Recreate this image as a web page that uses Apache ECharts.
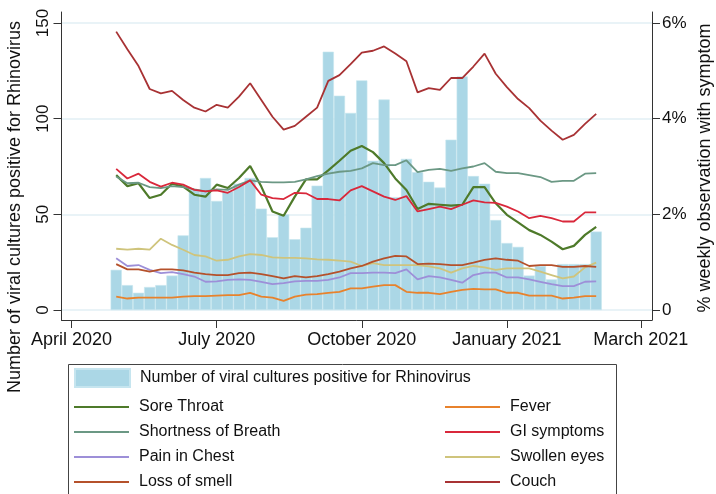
<!DOCTYPE html>
<html>
<head>
<meta charset="utf-8">
<script src="https://cdn.jsdelivr.net/npm/echarts@6/dist/echarts.min.js"></script>
<style>
html,body{margin:0;padding:0;background:#fff;}
#chart{width:716px;height:494px;}
</style>
</head>
<body>
<div id="chart"></div>
<script>
// ---- data ----
const weeks = [0,1,2,3,4,5,6,7,8,9,10,11,12,13,14,15,16,17,18,19,20,21,22,23,24,25,26,27,28,29,30,31,32,33,34,35,36,37,38,39,40,41,42,43];
const tickWeeks = [-4, 9, 22, 35, 47];
const tickLabels = ['April 2020','July 2020','October 2020','January 2021','March 2021'];
const leftTicks = [0, 50, 100, 150];
const rightTicks = [0, 2, 4, 6];

const rhinovirus = [21,13,9,12,13,18,39,63,69,57,62,66,69,53,38,50,37,43,65,135,112,103,120,78,110,59,79,72,67,64,89,122,70,66,47,35,33,18,23,16,24,24,24,41];

const soreThroat = [2.82,2.59,2.65,2.34,2.41,2.64,2.58,2.41,2.37,2.62,2.55,2.76,3.01,2.58,2.06,1.97,2.37,2.73,2.73,2.92,3.12,3.33,3.43,3.30,3.07,2.75,2.51,2.11,2.22,2.20,2.18,2.20,2.57,2.57,2.23,1.99,1.83,1.67,1.57,1.43,1.27,1.34,1.57,1.74];
const shortness = [2.79,2.65,2.66,2.57,2.55,2.59,2.57,2.52,2.48,2.52,2.51,2.62,2.71,2.68,2.67,2.67,2.68,2.73,2.80,2.85,2.89,2.91,2.96,3.07,3.03,3.03,3.13,2.88,2.93,2.95,2.91,2.96,3.00,3.07,2.89,2.86,2.86,2.82,2.78,2.68,2.70,2.70,2.85,2.86];
const painChest = [1.08,0.92,0.94,0.84,0.77,0.79,0.75,0.70,0.59,0.60,0.63,0.64,0.63,0.59,0.54,0.56,0.60,0.61,0.61,0.63,0.68,0.77,0.77,0.78,0.78,0.77,0.85,0.64,0.71,0.68,0.63,0.57,0.73,0.78,0.78,0.68,0.68,0.64,0.59,0.54,0.50,0.50,0.59,0.60];
const lossSmell = [0.96,0.85,0.85,0.80,0.85,0.85,0.83,0.78,0.75,0.73,0.73,0.77,0.78,0.75,0.71,0.66,0.71,0.68,0.71,0.75,0.80,0.87,0.92,1.01,1.08,1.13,1.12,0.96,0.97,0.96,0.94,0.94,0.99,1.05,1.08,1.05,1.03,0.92,0.94,0.94,0.90,0.90,0.92,0.90];
const fever = [0.28,0.24,0.26,0.26,0.26,0.26,0.28,0.29,0.29,0.30,0.31,0.31,0.36,0.28,0.26,0.19,0.28,0.32,0.33,0.36,0.38,0.45,0.45,0.49,0.52,0.52,0.38,0.36,0.36,0.33,0.38,0.42,0.44,0.43,0.43,0.36,0.36,0.30,0.30,0.30,0.24,0.26,0.29,0.29];
const giSymptoms = [2.95,2.75,2.85,2.68,2.58,2.66,2.62,2.51,2.48,2.50,2.45,2.57,2.71,2.41,2.34,2.32,2.45,2.44,2.32,2.32,2.29,2.50,2.59,2.48,2.37,2.30,2.38,2.06,2.11,2.16,2.11,2.20,2.29,2.25,2.24,2.16,2.06,1.92,1.97,1.92,1.85,1.85,2.04,2.04];
const swollenEyes = [1.28,1.26,1.28,1.26,1.49,1.36,1.26,1.15,1.12,1.03,1.05,1.12,1.17,1.15,1.10,1.09,1.09,1.08,1.06,1.05,1.03,1.01,0.92,0.98,0.94,0.94,0.94,0.94,0.91,0.87,0.78,0.87,0.92,0.89,0.84,0.87,0.87,0.87,0.80,0.73,0.66,0.70,0.89,0.99];
const couch = [5.82,5.45,5.10,4.62,4.53,4.58,4.39,4.23,4.15,4.29,4.23,4.46,4.74,4.39,4.04,3.77,3.85,4.04,4.23,4.79,4.91,5.14,5.38,5.42,5.51,5.36,5.20,4.55,4.64,4.60,4.85,4.85,5.09,5.36,4.94,4.66,4.41,4.22,3.96,3.75,3.56,3.66,3.89,4.10];

// ---- chart ----
const FONT = "'Liberation Sans', Arial, sans-serif";
const TXT = '#111';
const pair = arr => weeks.map((w, i) => [w, arr[i]]);

const lineDefs = [
  {name: 'Sore Throat', data: soreThroat, color: '#4e7a2a', width: 2.2},
  {name: 'Fever', data: fever, color: '#e8822c', width: 1.8},
  {name: 'Shortness of Breath', data: shortness, color: '#6b9884', width: 1.8},
  {name: 'GI symptoms', data: giSymptoms, color: '#d9283b', width: 1.8},
  {name: 'Pain in Chest', data: painChest, color: '#9d8fd8', width: 1.8},
  {name: 'Swollen eyes', data: swollenEyes, color: '#cfc47c', width: 1.8},
  {name: 'Loss of smell', data: lossSmell, color: '#b5512b', width: 1.8},
  {name: 'Couch', data: couch, color: '#a83234', width: 1.8}
];

const series = [{
  name: 'Number of viral cultures positive for Rhinovirus',
  type: 'bar',
  xAxisIndex: 0, yAxisIndex: 0,
  data: pair(rhinovirus),
  barCategoryGap: '0%',
  itemStyle: {color: '#abd7e6', borderColor: '#c6e5ef', borderWidth: 0.6},
  z: 1
}].concat(lineDefs.map(d => ({
  name: d.name, type: 'line', xAxisIndex: 0, yAxisIndex: 1,
  data: pair(d.data), symbol: 'none', showSymbol: false,
  lineStyle: {color: d.color, width: d.width}, itemStyle: {color: d.color},
  z: 3
})));

const legendBase = {
  itemWidth: 55, itemHeight: 2, icon: 'rect', orient: 'vertical',
  itemGap: 5, height: 130, padding: 0,
  textStyle: {fontFamily: FONT, fontSize: 16, color: TXT, lineHeight: 20, padding: [0,0,0,5]},
  selectedMode: false
};

const option = {
  animation: false,
  backgroundColor: '#fff',
  grid: {left: 61.5, right: 64, top: 12, bottom: 174, containLabel: false},
  xAxis: [{
    type: 'value', min: -4.9, max: 48,
    axisLine: {show: true, onZero: false, lineStyle: {color: '#333', width: 1}},
    axisTick: {show: true, length: 8, lineStyle: {color: '#333'}, customValues: tickWeeks},
    axisLabel: {customValues: tickWeeks, margin: 11, fontFamily: FONT, fontSize: 18, color: TXT,
      formatter: v => tickLabels[tickWeeks.indexOf(Math.round(v))] || ''},
    splitLine: {show: false}
  }],
  yAxis: [{
    type: 'value', min: -5.23, max: 155.75, position: 'left',
    axisLine: {show: true, onZero: false, lineStyle: {color: '#333', width: 1}},
    axisTick: {show: true, length: 8, lineStyle: {color: '#333'}, customValues: leftTicks},
    axisLabel: {customValues: leftTicks, rotate: 90, margin: 10, fontFamily: FONT, fontSize: 17, color: TXT},
    splitLine: {show: true, lineStyle: {color: '#e2eff5', width: 1.5}}
  }, {
    type: 'value', min: -0.2092, max: 6.23, position: 'right',
    axisLine: {show: true, onZero: false, lineStyle: {color: '#333', width: 1}},
    axisTick: {show: true, length: 8, lineStyle: {color: '#333'}, customValues: rightTicks},
    axisLabel: {customValues: rightTicks, margin: 10, fontFamily: FONT, fontSize: 17, color: TXT,
      formatter: v => v === 0 ? '0' : v + '%'},
    splitLine: {show: false}
  }],
  legend: [
    Object.assign({}, legendBase, {
      left: 74, top: 368, itemHeight: 18,
      data: ['Number of viral cultures positive for Rhinovirus']
    }),
    Object.assign({}, legendBase, {
      left: 74, top: 397,
      data: ['Sore Throat', 'Shortness of Breath', 'Pain in Chest', 'Loss of smell']
    }),
    Object.assign({}, legendBase, {
      left: 445, top: 397,
      data: ['Fever', 'GI symptoms', 'Swollen eyes', 'Couch']
    })
  ],
  graphic: [
    {type: 'rect', left: 66, top: 362, shape: {width: 548, height: 150},
      style: {fill: 'none', stroke: '#444', lineWidth: 1}, silent: true},
    {type: 'text', x: 15, y: 207, rotation: Math.PI / 2,
      style: {text: 'Number of viral cultures positive for Rhinovirus', font: '18px ' + FONT,
        fill: TXT, textAlign: 'center', textVerticalAlign: 'middle'}},
    {type: 'text', x: 705, y: 168, rotation: Math.PI / 2,
      style: {text: '% weekly observation with symptom', font: '18px ' + FONT,
        fill: TXT, textAlign: 'center', textVerticalAlign: 'middle'}}
  ],
  series: series
};

const chart = echarts.init(document.getElementById('chart'), null, {renderer: 'canvas'});
chart.setOption(option);
</script>
</body>
</html>
